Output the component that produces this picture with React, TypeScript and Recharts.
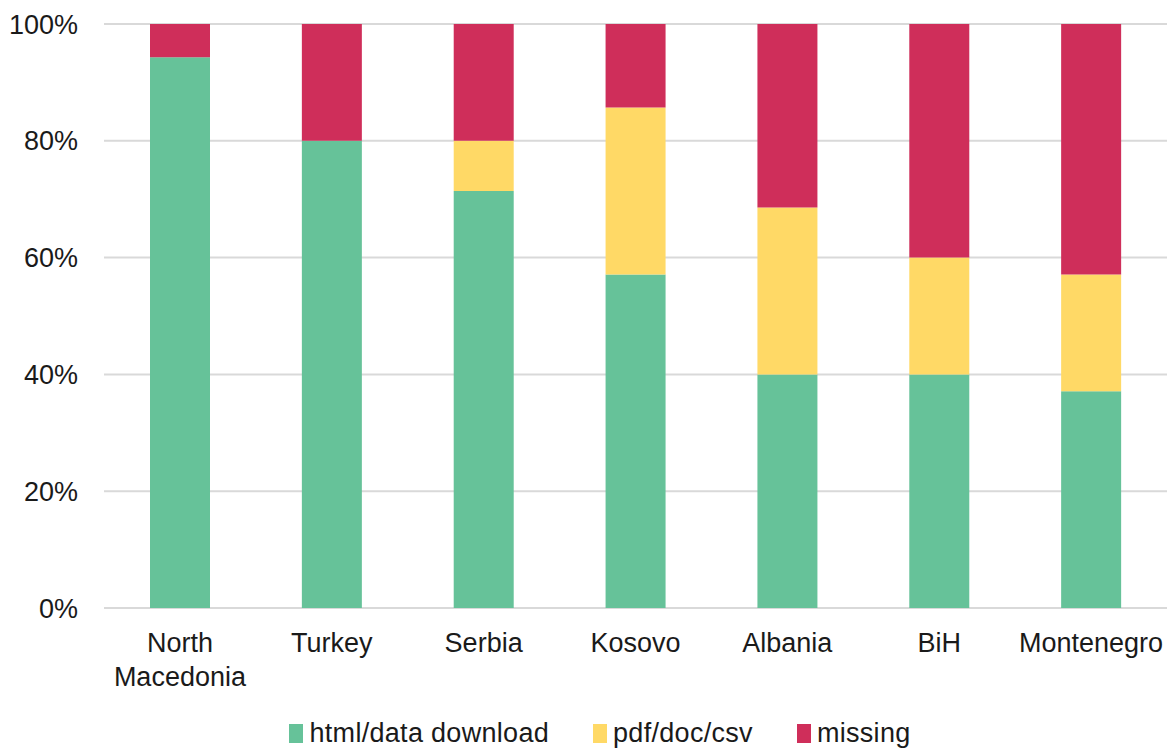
import React from 'react'
import { BarChart, Bar, XAxis, YAxis, CartesianGrid } from 'recharts'

// share of sources per country, in percent
const countries = ['North Macedonia', 'Turkey', 'Serbia', 'Kosovo', 'Albania', 'BiH', 'Montenegro']
const htmlDownload = [94.3, 80, 71.4, 57.1, 40, 40, 37.1]
const pdfDocCsv = [0, 0, 8.6, 28.6, 28.6, 20, 20]
const missing = [5.7, 20, 20, 14.3, 31.4, 40, 42.9]
const yTicks = [0, 20, 40, 60, 80, 100]

const SERIES = [
  { key: 'html', name: 'html/data download', color: '#66c299' },
  { key: 'pdf', name: 'pdf/doc/csv', color: '#ffd966' },
  { key: 'missing', name: 'missing', color: '#cf2e5a' },
]

const FONT = '"Liberation Sans", Arial, sans-serif'
const TEXT = '#1a1a1a'

const data = countries.map((c, i) => ({
  country: c,
  html: htmlDownload[i],
  pdf: pdfDocCsv[i],
  missing: missing[i],
}))

function CountryTick(props: any) {
  const { x, y, payload } = props
  const words = String(payload.value).split(' ')
  return (
    <text x={x} y={y} textAnchor="middle" fill={TEXT} fontSize={27} fontFamily={FONT}>
      {words.map((w, i) => (
        <tspan key={w} x={x} dy={i === 0 ? 42 : 34}>{w}</tspan>
      ))}
    </text>
  )
}

export default function App() {
  return (
    <div style={{ position: 'absolute', left: 0, top: 0, width: 1170, height: 749, background: '#fff' }}>
      <BarChart width={1170} height={749} data={data} barSize={60}
        margin={{ top: 24, right: 3, bottom: 0, left: 0 }}>
        <CartesianGrid vertical={false} stroke="#d9d9d9" strokeWidth={2} />
        <XAxis dataKey="country" height={141} axisLine={false} tickLine={false} tickSize={0}
          tick={<CountryTick />} interval={0} />
        <YAxis domain={[0, 100]} ticks={yTicks} width={104} axisLine={false} tickLine={false}
          tickSize={0} tickMargin={26} tickFormatter={(v: number) => `${v}%`}
          tick={{ fill: TEXT, fontSize: 27, fontFamily: FONT }} />
        {SERIES.map(s => (
          <Bar key={s.key} dataKey={s.key} name={s.name} stackId="a" fill={s.color}
            isAnimationActive={false} />
        ))}
      </BarChart>

      {/* legend row under the axis labels */}
      <div style={{
        position: 'absolute', left: 0, top: 718, width: 1170, display: 'flex',
        justifyContent: 'center', gap: 44, fontFamily: FONT, fontSize: 27, color: TEXT,
        letterSpacing: 0.3, transform: 'translateX(15px)',
      }}>
        {SERIES.map(s => (
          <div key={s.key} style={{ display: 'flex', alignItems: 'center', gap: 6 }}>
            <div style={{ width: 14, height: 19, background: s.color }} />
            <span>{s.name}</span>
          </div>
        ))}
      </div>
    </div>
  )
}
